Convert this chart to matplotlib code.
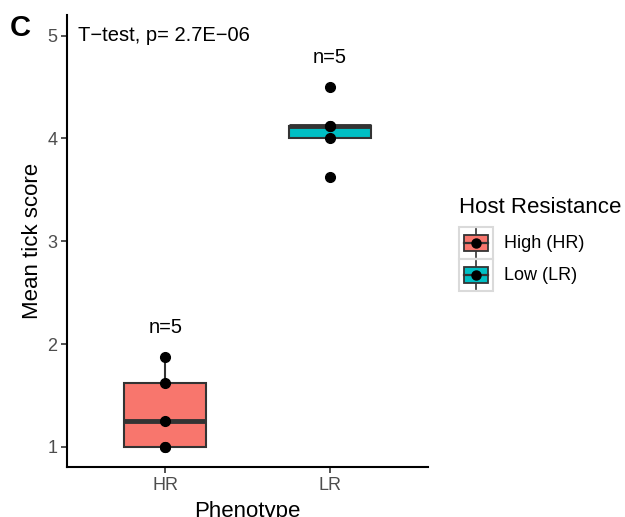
import matplotlib
matplotlib.use("Agg")
import matplotlib.pyplot as plt
import numpy as np
from matplotlib.patches import Rectangle
from matplotlib.lines import Line2D
from matplotlib.legend_handler import HandlerBase

plt.rcParams['font.family'] = ['Liberation Sans', 'DejaVu Sans']

categories = ["HR", "LR"]
legend_labels = ["High (HR)", "Low (LR)"]
colors = ["#F8766D", "#00BFC4"]
values = {
    "HR": [1.0, 1.0, 1.25, 1.625, 1.875],
    "LR": [3.625, 4.0, 4.125, 4.125, 4.5],
}
yticks = [1, 2, 3, 4, 5]
annot = "T\u2212test, p= 2.7E\u221206"

fig = plt.figure(figsize=(6.25, 5.17), dpi=100)
ax = fig.add_axes([0.1072, 0.0967, 0.5776, 0.8743])

edge = "#333333"
width = 0.5
for i, (cat, col) in enumerate(zip(categories, colors)):
    x = i + 1
    v = np.array(values[cat])
    q1, med, q3 = np.percentile(v, [25, 50, 75])
    iqr = q3 - q1
    lo_lim, hi_lim = q1 - 1.5 * iqr, q3 + 1.5 * iqr
    wlo = v[v >= lo_lim].min()
    whi = v[v <= hi_lim].max()
    ax.plot([x, x], [q3, whi], color=edge, lw=1.5, zorder=2)
    ax.plot([x, x], [wlo, q1], color=edge, lw=1.5, zorder=2)
    ax.add_patch(Rectangle((x - width / 2, q1), width, q3 - q1, facecolor=col,
                           edgecolor=edge, lw=1.5, zorder=3))
    ax.plot([x - width / 2, x + width / 2], [med, med], color=edge, lw=3.5,
            zorder=4, solid_capstyle='butt')
    ax.plot(np.full(len(v), x), v, 'o', color='black', ms=7, zorder=5)
    ax.text(x, v.max() + 0.19, "n=%d" % len(v), ha='center', va='bottom',
            fontsize=14.5)

ax.text(0.47, 5.0, annot, ha='left', va='center', fontsize=14.5)

ax.set_xlim(0.4, 2.6)
ax.set_ylim(0.805, 5.2)
ax.set_xticks([1, 2])
ax.set_xticklabels(categories)
ax.set_yticks(yticks)
ax.set_yticklabels([str(t) for t in yticks])
for s in ['top', 'right']:
    ax.spines[s].set_visible(False)
for s in ['left', 'bottom']:
    ax.spines[s].set_linewidth(1.5)
    ax.spines[s].set_color('black')
ax.tick_params(axis='both', direction='out', length=4, width=1.2,
               color='#333333', labelcolor='#4D4D4D', labelsize=13, pad=3)
ax.set_xlabel("Phenotype", fontsize=16, labelpad=5)
ax.set_ylabel("Mean tick score", fontsize=16, labelpad=3)

fig.text(0.016, 0.945, "C", fontsize=21, fontweight='bold', ha='left', va='center')


class BoxHandler(HandlerBase):
    def create_artists(self, legend, orig_handle, xdescent, ydescent, width,
                       height, fontsize, trans):
        col = orig_handle.get_facecolor()
        w, h = width, height
        x0, y0 = -xdescent, -ydescent
        cx, cy = x0 + w / 2, y0 + h / 2
        arts = []
        arts.append(Rectangle((x0, y0), w, h, facecolor='white',
                              edgecolor='#DADADA', lw=1.5, transform=trans))
        arts.append(Line2D([cx, cx], [y0 + 1.5, y0 + h - 1.5], color=edge,
                           lw=1.2, transform=trans))
        bx = Rectangle((x0 + w * 0.14, cy - h * 0.25), w * 0.72, h * 0.5,
                       facecolor=col, edgecolor=edge, lw=1.3, transform=trans)
        arts.append(bx)
        arts.append(Line2D([x0 + w * 0.14, x0 + w * 0.86], [cy, cy],
                           color=edge, lw=1.6, transform=trans))
        arts.append(Line2D([cx], [cy], marker='o', color='black', ms=6.5,
                           transform=trans))
        return arts


handles = [Rectangle((0, 0), 1, 1, facecolor=c) for c in colors]
leg = fig.legend(handles, legend_labels, handler_map={Rectangle: BoxHandler()},
                 loc='upper left', bbox_to_anchor=(0.735, 0.618), frameon=False,
                 title="Host Resistance", title_fontsize=16, fontsize=13,
                 handlelength=1.85, handleheight=2.35, handletextpad=0.6,
                 labelspacing=0.0, borderaxespad=0, borderpad=0)
leg._legend_box.align = "left"
leg._legend_box.sep = 6

fig.savefig("out.png", dpi=100)
